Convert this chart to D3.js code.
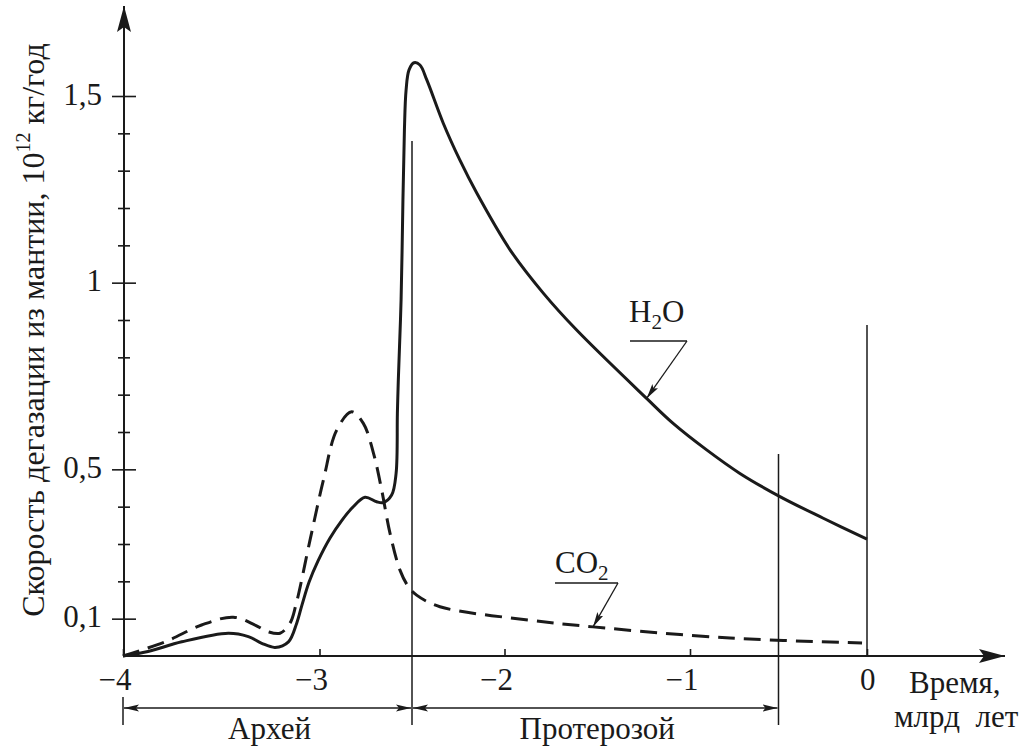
<!DOCTYPE html>
<html>
<head>
<meta charset="utf-8">
<script src="https://cdn.jsdelivr.net/npm/d3@7"></script>
<style>
  html, body { margin: 0; padding: 0; background: #fff; }
  svg { display: block; }
</style>
</head>
<body>
<svg id="chart" width="1026" height="749"></svg>
<script>
// Degassing rate of the mantle (10^12 kg/yr) vs. time (Ga)
const h2oTime = [-4, -3.873, -3.701, -3.464, -3.362, -3.294, -3.226, -3.158, -3.116, -3.089,
  -3.053, -3.008, -2.943, -2.878, -2.819, -2.754, -2.691, -2.655, -2.61, -2.586, -2.579,
  -2.574, -2.559, -2.549, -2.541, -2.532, -2.516, -2.489, -2.457, -2.42, -2.331, -2.241,
  -2.15, -1.97, -1.791, -1.611, -1.234, -1.091, -0.906, -0.718, -0.492, -0.247, 0];
const h2oRate = [0, 0.012, 0.038, 0.061, 0.052, 0.034, 0.023, 0.038, 0.088, 0.137,
  0.198, 0.254, 0.316, 0.364, 0.399, 0.425, 0.413, 0.411, 0.431, 0.489, 0.65,
  0.739, 0.954, 1.222, 1.409, 1.516, 1.57, 1.589, 1.583, 1.543, 1.427, 1.328,
  1.24, 1.088, 0.972, 0.873, 0.69, 0.623, 0.552, 0.489, 0.427, 0.369, 0.313];

const co2Time = [-4, -3.786, -3.6, -3.439, -3.328, -3.261, -3.201, -3.15, -3.12, -3.048,
  -2.979, -2.907, -2.826, -2.763, -2.708, -2.664, -2.619, -2.565, -2.52, -2.475,
  -2.349, -1.863, -1.523, -0.774, -0.028];
const co2Rate = [0, 0.038, 0.083, 0.104, 0.083, 0.065, 0.061, 0.088, 0.137, 0.311,
  0.471, 0.605, 0.654, 0.623, 0.543, 0.445, 0.329, 0.23, 0.186, 0.163,
  0.132, 0.096, 0.078, 0.048, 0.035];

// Axis ticks
const xTicks = [-4, -3, -2, -1, 0];
const xTickLabels = ["\u22124", "\u22123", "\u22122", "\u22121", "0"];
const yMajor = [0.1, 0.5, 1, 1.5];
const yMajorLabels = ["0,1", "0,5", "1", "1,5"];
const yMinor = [0.2, 0.3, 0.4, 0.6, 0.7, 0.8, 0.9, 1.1, 1.2, 1.3, 1.4];

// Geological eras
const eraNames = ["Архей", "Протерозой"];
const eraBounds = [-4, -2.5, -0.5];

// Curve labels and where their leaders point on the curves
const seriesNames = ["H", "CO"];
const labelTargets = [[-1.234, 0.69], [-1.523, 0.078]];

const ink = "#1a1a1a";
const serif = "Liberation Serif, Times New Roman, serif";
const svg = d3.select("#chart").attr("font-family", serif);

const x = d3.scaleLinear()
  .domain([-4, -3, -2, -1, 0])
  .range([123, 319.5, 504.5, 690, 867]);
const y = d3.scaleLinear().domain([0, 1.5]).range([656, 96]);

const x0 = x(-4), y0 = y(0);

// Arrow markers
const defs = svg.append("defs");
defs.append("marker").attr("id", "axisHead")
  .attr("viewBox", "0 0 26 16").attr("refX", 26).attr("refY", 8)
  .attr("markerWidth", 26).attr("markerHeight", 16)
  .attr("markerUnits", "userSpaceOnUse").attr("orient", "auto")
  .append("path").attr("d", "M0,1 L26,8 L0,15 L5,8 Z").attr("fill", ink);
defs.append("marker").attr("id", "smallHead")
  .attr("viewBox", "0 0 15 8").attr("refX", 15).attr("refY", 4)
  .attr("markerWidth", 15).attr("markerHeight", 8)
  .attr("markerUnits", "userSpaceOnUse").attr("orient", "auto-start-reverse")
  .append("path").attr("d", "M0,0.5 L15,4 L0,7.5 L3,4 Z").attr("fill", ink);

// Main axes with arrows
svg.append("line").attr("x1", x0).attr("y1", y0).attr("x2", 1005).attr("y2", y0)
  .attr("stroke", ink).attr("stroke-width", 2).attr("marker-end", "url(#axisHead)");
svg.append("line").attr("x1", x0 + 1).attr("y1", y0 + 1).attr("x2", x0 + 1).attr("y2", 6)
  .attr("stroke", ink).attr("stroke-width", 2).attr("marker-end", "url(#axisHead)");

// Y ticks: major ticks cross the axis, minor ticks are shorter
function yTickAxis(axisFn, values, size) {
  svg.append("g").attr("transform", `translate(${x0 + 1},0)`)
    .call(axisFn(y).tickValues(values).tickSize(size).tickFormat(""))
    .call(g => g.select(".domain").remove())
    .call(g => g.selectAll("line").attr("stroke", ink).attr("stroke-width", 1.6));
}
yTickAxis(d3.axisLeft, yMajor, 12);
yTickAxis(d3.axisRight, yMajor, 12);
yTickAxis(d3.axisLeft, yMinor, 6);
yTickAxis(d3.axisRight, yMinor, 6);

svg.append("g").attr("transform", `translate(${x0 + 1},0)`)
  .call(d3.axisLeft(y).tickValues(yMajor).tickSize(0)
    .tickFormat((d, i) => yMajorLabels[i]))
  .attr("font-family", serif)
  .call(g => g.select(".domain").remove())
  .call(g => g.selectAll("text")
    .attr("x", -22).attr("dy", 8)
    .attr("font-size", 31).attr("fill", ink));

// X ticks point upward, labels sit below
svg.append("g").attr("transform", `translate(0,${y0})`)
  .call(d3.axisBottom(x).tickValues(xTicks).tickSize(-7)
    .tickFormat((d, i) => xTickLabels[i]))
  .attr("font-family", serif)
  .call(g => g.select(".domain").remove())
  .call(g => g.selectAll("line").attr("stroke", ink).attr("stroke-width", 1.6))
  .call(g => g.selectAll("text")
    .attr("y", 34).attr("dy", 0).attr("x", 8)
    .attr("text-anchor", "end")
    .attr("font-size", 31).attr("fill", ink));

// Era boundary lines
const vline = (xv, ya, yb) => svg.append("line")
  .attr("x1", x(xv)).attr("x2", x(xv)).attr("y1", ya).attr("y2", yb)
  .attr("stroke", ink).attr("stroke-width", 1.5);
vline(eraBounds[0], 697, 725);
vline(eraBounds[1], 141, 725);
vline(eraBounds[2], 454, 725);
vline(0, 325, y0);

// Era spans with double arrows
const eraY = 708;
eraNames.forEach((name, i) => {
  const a = x(eraBounds[i]), b = x(eraBounds[i + 1]);
  svg.append("line").attr("x1", a + 1).attr("x2", b - 1)
    .attr("y1", eraY).attr("y2", eraY)
    .attr("stroke", ink).attr("stroke-width", 1.3)
    .attr("marker-start", "url(#smallHead)").attr("marker-end", "url(#smallHead)");
  svg.append("text").attr("x", (a + b) / 2 + 2).attr("y", 739)
    .attr("text-anchor", "middle").attr("font-size", 31).attr("fill", ink).text(name);
});

// Axis titles
svg.append("text").attr("x", 909).attr("y", 693).attr("font-size", 31)
  .attr("fill", ink).text("Время,");
svg.append("text").attr("x", 894).attr("y", 727).attr("font-size", 31)
  .attr("fill", ink).text("млрд\u00a0\u00a0лет");

const yTitle = svg.append("text")
  .attr("transform", "translate(44,330) rotate(-90)")
  .attr("text-anchor", "middle").attr("font-size", 32).attr("fill", ink);
yTitle.append("tspan").text("Скорость дегазации из мантии, 10");
yTitle.append("tspan").attr("font-size", 20).attr("dy", -14).text("12");
yTitle.append("tspan").attr("dy", 14).text("\u00a0кг/год");

// Curves
const line = d3.line()
  .x(d => x(d[0])).y(d => y(d[1]))
  .curve(d3.curveCatmullRom.alpha(0.5));

svg.append("path").datum(d3.zip(co2Time, co2Rate))
  .attr("d", line).attr("fill", "none")
  .attr("stroke", ink).attr("stroke-width", 3)
  .attr("stroke-dasharray", "17,9");

svg.append("path").datum(d3.zip(h2oTime, h2oRate))
  .attr("d", line).attr("fill", "none")
  .attr("stroke", ink).attr("stroke-width", 3)
  .attr("stroke-linejoin", "round");

// Curve labels with leader lines
const labelBoxes = [
  { tx: 629, ty: 322, lx1: 630, lx2: 687, ly: 341 },
  { tx: 555, ty: 573, lx1: 555, lx2: 618, ly: 583 }
];
labelBoxes.forEach((b, i) => {
  const t = svg.append("text").attr("x", b.tx).attr("y", b.ty)
    .attr("font-size", 31).attr("fill", ink);
  t.append("tspan").text(seriesNames[i]);
  t.append("tspan").attr("font-size", 21).attr("dy", 7).text("2");
  if (i === 0) t.append("tspan").attr("dy", -7).text("O");
  svg.append("line").attr("x1", b.lx1).attr("x2", b.lx2).attr("y1", b.ly).attr("y2", b.ly)
    .attr("stroke", ink).attr("stroke-width", 1.5);
  const [tx, ty] = labelTargets[i];
  svg.append("line").attr("x1", b.lx2).attr("y1", b.ly)
    .attr("x2", x(tx)).attr("y2", y(ty))
    .attr("stroke", ink).attr("stroke-width", 1.3)
    .attr("marker-end", "url(#smallHead)");
});
</script>
</body>
</html>
